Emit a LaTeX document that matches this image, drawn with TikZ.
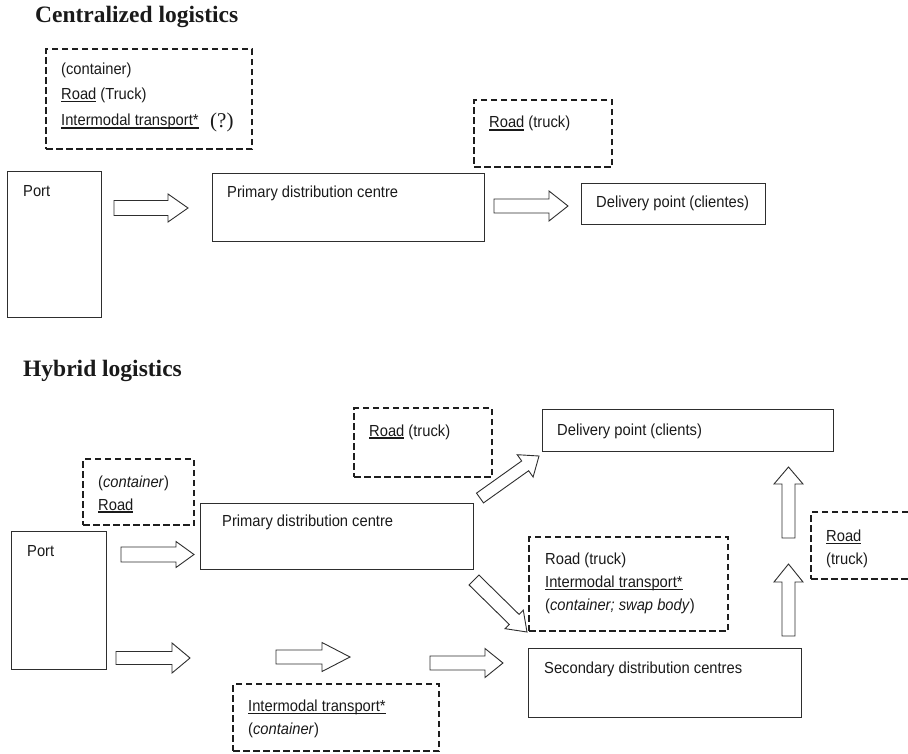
\documentclass[tikz,border=0pt]{standalone}
\usepackage{fontspec}
\newfontfamily\arialf{Liberation Sans}[FakeStretch=0.92]
\newfontfamily\timesf{Liberation Serif}
\usetikzlibrary{calc}
\definecolor{lc}{HTML}{2E2E2E}
\definecolor{dc}{HTML}{1E1E1E}
\definecolor{tc}{HTML}{1A1A1A}
\newcommand\myul[1]{\setbox0=\hbox{#1}\rlap{\rule[-2.6pt]{\wd0}{1.2pt}}\box0\relax}
\newcommand\fatarrow[5]{%
  \coordinate (hb) at ($(#2)!#3!(#1)$);
  \draw[fatarr] ($(#1)!#4!90:(#2)$) -- ($(hb)!#4!90:(#2)$) -- ($(hb)!#5!90:(#2)$) -- (#2) -- ($(hb)!#5!-90:(#2)$) -- ($(hb)!#4!-90:(#2)$) -- ($(#1)!#4!-90:(#2)$) -- cycle;}
\tikzset{
  sbox/.style={draw=lc, line width=1pt, inner sep=0, anchor=north west},
  dbox/.style={draw=dc, line width=2.2pt, dash pattern=on 6.5pt off 3.5pt, inner sep=0, anchor=north west},
  txt/.style={font=\arialf\fontsize{16}{18}\selectfont, text=tc, inner sep=0, anchor=base west},
  ttl/.style={font=\timesf\bfseries\fontsize{23.5}{28}\selectfont, text=tc, inner sep=0, anchor=base west},
  qm/.style={font=\timesf\fontsize{21}{24}\selectfont, text=tc, inner sep=0, anchor=base west},
  fatarr/.style={draw=lc, line width=0.9pt, fill=white, line join=miter}
}
\begin{document}
\begin{tikzpicture}[x=1pt, y=-1pt]
\useasboundingbox (0,0) rectangle (908,754);
% ---------- Centralized ----------
\node[ttl] (t1) at (35,22.7) {Centralized logistics};
\node[dbox, minimum width=206pt, minimum height=100pt] (d1) at (45,48) {};
\node[txt] (d1a) at (61,75) {(container)};
\node[txt] (d1b) at (61,99.5) {\myul{Road} (Truck)};
\node[txt] (d1c) at (61,126) {\myul{Intermodal transport*}};
\node[qm] (d1q) at (210,128) {(?)};
\node[sbox, minimum width=94pt, minimum height=146pt] (port1) at (7,171) {};
\node[txt] (port1t) at (23,197) {Port};
\node[sbox, minimum width=272pt, minimum height=68pt] (pdc1) at (212,173) {};
\node[txt] (pdc1t) at (227,198) {Primary distribution centre};
\node[dbox, minimum width=138pt, minimum height=67pt] (d2) at (473,99) {};
\node[txt] (d2a) at (489,128) {\myul{Road} (truck)};
\node[sbox, minimum width=184pt, minimum height=41pt] (dp1) at (581,183) {};
\node[txt] (dp1t) at (596,208) {Delivery point (clientes)};
\coordinate (a1s) at (114,208); \coordinate (a1e) at (188,208);
\coordinate (a2s) at (494,206); \coordinate (a2e) at (568,206);
\fatarrow{a1s}{a1e}{20pt}{7.5pt}{14pt}
\fatarrow{a2s}{a2e}{19pt}{7pt}{15pt}
% ---------- Hybrid ----------
\node[ttl] (t2) at (23,376) {Hybrid logistics};
\node[dbox, minimum width=138pt, minimum height=69pt] (d3) at (353,407) {};
\node[txt] (d3a) at (369,436) {\myul{Road} (truck)};
\node[dbox, minimum width=111pt, minimum height=66pt] (d4) at (82,458) {};
\node[txt] (d4a) at (98,487) {(\textit{container})};
\node[txt] (d4b) at (98,510) {\myul{Road}};
\node[sbox, minimum width=95pt, minimum height=138pt] (port2) at (11,531) {};
\node[txt] (port2t) at (27,556) {Port};
\node[sbox, minimum width=273pt, minimum height=66pt] (pdc2) at (200,503) {};
\node[txt] (pdc2t) at (222,526.5) {Primary distribution centre};
\node[sbox, minimum width=291pt, minimum height=42pt] (dp2) at (542,409) {};
\node[txt] (dp2t) at (557,435) {Delivery point (clients)};
\node[dbox, minimum width=199pt, minimum height=94pt] (d5) at (528,536) {};
\node[txt] (d5a) at (545,564) {Road (truck)};
\node[txt] (d5b) at (545,587.5) {\myul{Intermodal transport*}};
\node[txt] (d5c) at (545,610) {(\textit{container; swap body})};
\node[sbox, minimum width=273pt, minimum height=69pt] (sdc) at (528,648) {};
\node[txt] (sdct) at (544,673) {Secondary distribution centres};
\node[dbox, minimum width=206pt, minimum height=67pt] (d6) at (232,683) {};
\node[txt] (d6a) at (248,711.5) {\myul{Intermodal transport*}};
\node[txt] (d6b) at (248,734) {(\textit{container})};
\begin{scope}
\clip (0,0) rectangle (908,754);
\node[dbox, minimum width=120pt, minimum height=67pt] (d7) at (810,511) {};
\end{scope}
\node[txt] (d7a) at (826,541.5) {\myul{Road}};
\node[txt] (d7b) at (826,564) {(truck)};
\coordinate (a3s) at (121,554.5); \coordinate (a3e) at (194,554.5);
\coordinate (a4s) at (116,658); \coordinate (a4e) at (190,658);
\coordinate (a5s) at (276,657); \coordinate (a5e) at (350,657);
\coordinate (a6s) at (430,663); \coordinate (a6e) at (503,663);
\coordinate (a7s) at (480,498); \coordinate (a7e) at (539,456);
\coordinate (a8s) at (474,580); \coordinate (a8e) at (527,632);
\coordinate (a9s) at (788.5,538); \coordinate (a9e) at (788.5,467);
\coordinate (a10s) at (788.5,636); \coordinate (a10e) at (788.5,564);
\fatarrow{a3s}{a3e}{18pt}{7.5pt}{13pt}
\fatarrow{a4s}{a4e}{18pt}{6.5pt}{15pt}
\fatarrow{a5s}{a5e}{28pt}{7pt}{14.5pt}
\fatarrow{a6s}{a6e}{18pt}{7pt}{14.5pt}
\fatarrow{a7s}{a7e}{17pt}{6pt}{13.7pt}
\fatarrow{a8s}{a8e}{18pt}{7pt}{13pt}
\fatarrow{a9s}{a9e}{17pt}{6.5pt}{14.5pt}
\fatarrow{a10s}{a10e}{18pt}{6.5pt}{14.5pt}
\end{tikzpicture}
\end{document}
